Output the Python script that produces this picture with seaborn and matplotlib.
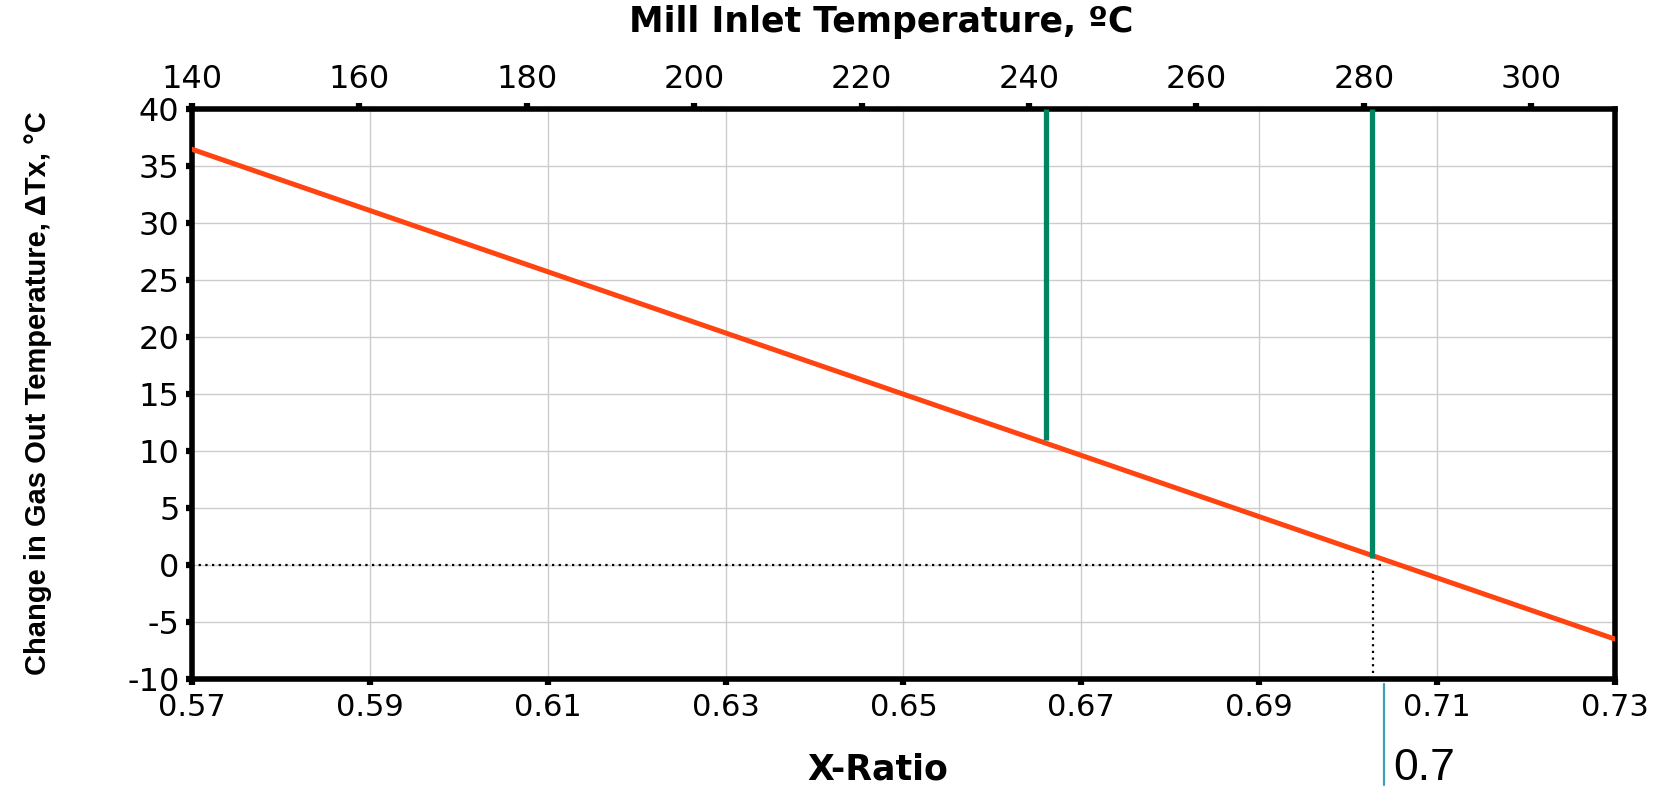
import numpy as np
import pandas as pd
import matplotlib
matplotlib.use("Agg")
import matplotlib.pyplot as plt
import seaborn as sns

# Data
x_ratio = [0.57, 0.73]               # bottom axis, X-Ratio
delta_tx = [36.5, -6.5]              # change in gas out temperature, degC
mill_temps = [242, 281]              # green markers on the top axis, degC
mill_bottoms = [11.0, 0.6]           # lower end of each green marker
zero_cross_x = 0.7028                # dotted guide down to the x axis
zero_line_end = 0.704
note_x = 0.704                       # thin teal pointer under the axis
note_label = "0.7"

x_ticks = [0.57, 0.59, 0.61, 0.63, 0.65, 0.67, 0.69, 0.71, 0.73]
y_ticks = [-10, -5, 0, 5, 10, 15, 20, 25, 30, 35, 40]
top_ticks = [140, 160, 180, 200, 220, 240, 260, 280, 300]
top_lim = (140, 310)

df = pd.DataFrame({"x": x_ratio, "dt": delta_tx})

sns.set_theme(style="whitegrid")
plt.rcParams["font.family"] = ["DejaVu Sans"]
plt.rcParams["axes.unicode_minus"] = False
plt.rcParams["text.color"] = "black"

fig = plt.figure(figsize=(16.66, 7.92), dpi=100)
ax = fig.add_axes([0.1152, 0.1427, 0.9694 - 0.1152, 0.8619 - 0.1427])

sns.lineplot(data=df, x="x", y="dt", ax=ax, color="#FF4411", linewidth=3.6, zorder=4)

ax.set_xlim(x_ticks[0], x_ticks[-1])
ax.set_ylim(y_ticks[0], y_ticks[-1])
ax.set_xticks(x_ticks)
ax.set_xticklabels([f"{v:.2f}" for v in x_ticks])
ax.set_yticks(y_ticks)
ax.set_xlabel("")
ax.set_ylabel("")
ax.grid(True, color="#cccccc", linewidth=1.0)

# dotted guides
ax.hlines(0, x_ticks[0], zero_line_end, colors="black", linestyles=(0, (1, 2)), linewidth=1.6, zorder=3)
ax.vlines(zero_cross_x, y_ticks[0] + 0.5, 0, colors="black", linestyles=(0, (1, 2)), linewidth=1.6, zorder=3)

# pointer below the axis and its label
ax.plot([note_x, note_x], [-10.4, -19.3], color="#3A9FBF", linewidth=1.6, clip_on=False)
ax.text(note_x + 0.0011, -18.9, note_label, fontsize=32, family=["Liberation Sans", "DejaVu Sans"],
        va="baseline", ha="left", color="black", clip_on=False)

for sp in ax.spines.values():
    sp.set_color("black")
    sp.set_linewidth(4)
ax.tick_params(axis="both", which="major", direction="out", length=4, width=4.5,
               color="black", labelsize=22, labelcolor="black")
ax.tick_params(axis="y", labelsize=23, pad=5)
ax.tick_params(axis="x", pad=6)
ax.tick_params(bottom=True, left=True)

# top axis: mill inlet temperature
ax_top = ax.twiny()
ax_top.set_xlim(*top_lim)
ax_top.set_xticks(top_ticks)
ax_top.grid(False)
ax_top.tick_params(axis="x", direction="out", length=4, width=4.5, color="black",
                   labelsize=23, labelcolor="black", pad=6, top=True)
for sp in ax_top.spines.values():
    sp.set_visible(False)
ax_top.vlines(mill_temps, mill_bottoms, y_ticks[-1], colors="#008562", linewidth=3.8, zorder=5)
ax_top.set_ylim(y_ticks[0], y_ticks[-1])

fig.text(0.529, 0.972, "Mill Inlet Temperature, ºC", fontsize=25, fontweight="bold",
         ha="center", va="center", color="black")
fig.text(0.4845, 0.016, "X-Ratio", fontsize=25, fontweight="bold", ha="left", va="baseline",
         color="black")
fig.text(0.023, 0.504, "Change in Gas Out Temperature, ΔTx, °C", fontsize=21, fontweight="bold",
         family=["Liberation Sans", "DejaVu Sans"], color="black",
         rotation=90, ha="center", va="center")

fig.savefig("out.png", dpi=100)
